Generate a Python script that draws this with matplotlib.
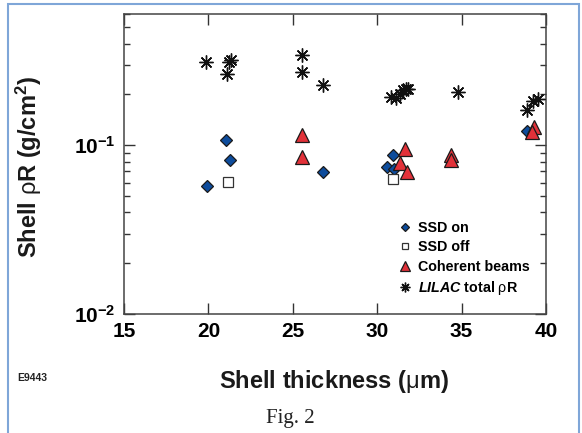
import matplotlib
matplotlib.use("Agg")
import matplotlib.pyplot as plt
from matplotlib.patches import Rectangle
from matplotlib.ticker import LogLocator, FixedLocator, FixedFormatter

plt.rcParams['font.family'] = ['Liberation Sans', 'DejaVu Sans']
plt.rcParams['mathtext.fontset'] = 'custom'
plt.rcParams['mathtext.rm'] = 'Liberation Sans'
plt.rcParams['mathtext.bf'] = 'Liberation Sans:bold'
plt.rcParams['mathtext.it'] = 'Liberation Sans:italic'
plt.rcParams['mathtext.bfit'] = 'Liberation Sans:italic:bold'

# SSD on (blue diamonds)
ssd_on_x = [19.9, 21.05, 21.25, 26.8, 30.6, 31.0, 30.95, 38.85]
ssd_on_y = [0.057, 0.108, 0.0815, 0.069, 0.0745, 0.0728, 0.0873, 0.121]

# SSD off (open squares)
ssd_off_x = [21.15, 30.95]
ssd_off_y = [0.0607, 0.0627]

# coherent beams (red triangles)
coh_x = [25.55, 25.55, 31.65, 31.35, 31.75, 34.4, 34.4, 39.3, 39.2]
coh_y = [0.1147, 0.0853, 0.0956, 0.078, 0.0695, 0.0873, 0.0823, 0.128, 0.120]

# LILAC total rhoR (asterisks)
lilac_x = [19.85, 21.2, 21.35, 21.1, 25.55, 25.55, 26.8,
           30.8, 31.1, 31.35, 31.55, 31.7, 31.85, 34.8, 38.85, 39.25, 39.5]
lilac_y = [0.31, 0.31, 0.32, 0.265, 0.344, 0.272, 0.229,
           0.192, 0.19, 0.2, 0.212, 0.217, 0.215, 0.206, 0.161, 0.183, 0.187]

xticks = [15, 20, 25, 30, 35, 40]
yticks = [0.01, 0.1]
ytick_labels = [r'$\mathbf{10^{-2}}$', r'$\mathbf{10^{-1}}$']

blue = '#0d4c9c'
red = '#e23139'

fig = plt.figure(figsize=(5.82, 4.33), dpi=100)
ax = fig.add_axes([124 / 582, 119 / 433, 422 / 582, 300 / 433])

ax.plot(ssd_on_x, ssd_on_y, ls='none', marker='D', ms=6, mfc=blue,
        mec='#1a1a1a', mew=0.9, label='SSD on', zorder=3)
ax.plot(ssd_off_x, ssd_off_y, ls='none', marker='s', ms=7, mfc='white',
        mec='#333333', mew=0.9, label='SSD off', zorder=3)
ax.plot(coh_x, coh_y, ls='none', marker='^', ms=9.5, mfc=red,
        mec='#1a1a1a', mew=0.9, label='Coherent beams', zorder=3)
ax.plot(lilac_x, lilac_y, ls='none', marker=(8, 2, 0), ms=10, mec='#111111',
        mew=1.0, label=r'$\mathbfit{LILAC}$ total $\mathrm{\rho}$R', zorder=3)

ax.set_yscale('log')
ax.set_xlim(15, 40)
ax.set_ylim(0.01, 0.6)

ax.xaxis.set_major_locator(FixedLocator(xticks))
ax.yaxis.set_major_locator(FixedLocator(yticks))
ax.yaxis.set_major_formatter(FixedFormatter(ytick_labels))
ax.yaxis.set_minor_locator(LogLocator(base=10, subs=range(2, 10)))
ax.yaxis.set_minor_formatter(plt.NullFormatter())

ax.tick_params(which='both', direction='in', top=True, right=True,
               color='#333333', width=1.0)
ax.tick_params(which='major', length=8, labelsize=15, pad=6)
ax.tick_params(which='minor', length=4)
for lbl in ax.get_xticklabels():
    lbl.set_fontweight('bold')
for sp in ax.spines.values():
    sp.set_color('#444444')
    sp.set_linewidth(1.1)

ax.set_xlabel(r'Shell thickness ($\mathrm{\mu}$m)', fontsize=17,
              fontweight='bold', color='#1a1a1a')
ax.set_ylabel(r'Shell $\mathrm{\rho}$R (g/cm$^{\mathbf{2}}$)', fontsize=17,
              fontweight='bold', color='#1a1a1a')
ax.xaxis.set_label_coords(0.497, -0.18)
ax.yaxis.set_label_coords(-0.19, 0.49)

leg = ax.legend(loc='upper left', bbox_to_anchor=(0.635, 0.335), frameon=False,
                prop={'weight': 'bold', 'size': 10.3}, handlelength=0.8,
                handletextpad=0.5, labelspacing=0.38, borderpad=0,
                markerscale=0.7)

fig.text(17 / 582, 1 - 378 / 433, 'E9443', fontsize=7.5, fontweight='bold',
         va='center', ha='left', color='#222222')
fig.text(290 / 582, 1 - 419 / 433, 'Fig. 2', fontsize=15,
         family='Liberation Serif', va='center', ha='center', color='#222222')

fig.patches.append(Rectangle((8 / 582, -0.05), 571 / 582, 1.05 - 4 / 433,
                             transform=fig.transFigure, fill=False,
                             edgecolor='#7fa6d8', linewidth=1.5))

fig.savefig('out.png', dpi=100)
